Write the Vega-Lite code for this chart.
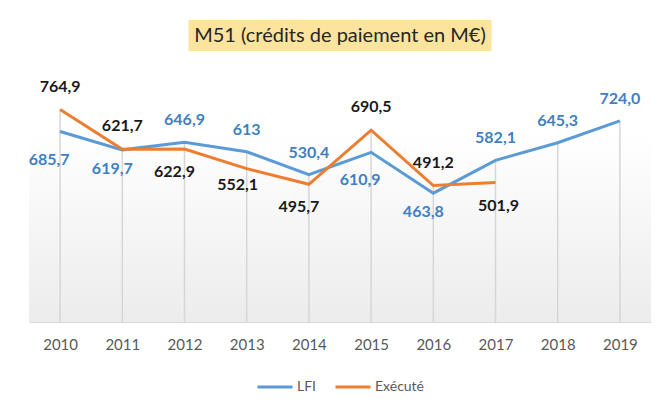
{
  "$schema": "https://vega.github.io/schema/vega-lite/v6.json",
  "padding": {"left": 28, "top": 20, "right": 10, "bottom": 5},
  "background": "white",
  "center": true,
  "spacing": 21,
  "config": {
    "font": "Lato",
    "view": {"stroke": null},
    "legend": {"layout": {"bottom": {"anchor": "middle"}}}
  },
  "datasets": {
    "m51": [
      {"year": 2010, "series": "LFI", "value": 685.7, "label": "685,7"},
      {"year": 2011, "series": "LFI", "value": 619.7, "label": "619,7"},
      {"year": 2012, "series": "LFI", "value": 646.9, "label": "646,9"},
      {"year": 2013, "series": "LFI", "value": 613, "label": "613"},
      {"year": 2014, "series": "LFI", "value": 530.4, "label": "530,4"},
      {"year": 2015, "series": "LFI", "value": 610.9, "label": "610,9"},
      {"year": 2016, "series": "LFI", "value": 463.8, "label": "463,8"},
      {"year": 2017, "series": "LFI", "value": 582.1, "label": "582,1"},
      {"year": 2018, "series": "LFI", "value": 645.3, "label": "645,3"},
      {"year": 2019, "series": "LFI", "value": 724.0, "label": "724,0"},
      {"year": 2010, "series": "Exécuté", "value": 764.9, "label": "764,9"},
      {"year": 2011, "series": "Exécuté", "value": 621.7, "label": "621,7"},
      {"year": 2012, "series": "Exécuté", "value": 622.9, "label": "622,9"},
      {"year": 2013, "series": "Exécuté", "value": 552.1, "label": "552,1"},
      {"year": 2014, "series": "Exécuté", "value": 495.7, "label": "495,7"},
      {"year": 2015, "series": "Exécuté", "value": 690.5, "label": "690,5"},
      {"year": 2016, "series": "Exécuté", "value": 491.2, "label": "491,2"},
      {"year": 2017, "series": "Exécuté", "value": 501.9, "label": "501,9"}
    ]
  },
  "vconcat": [
    {
      "width": 303,
      "height": 31,
      "view": {"fill": "#FCE49C", "stroke": null},
      "data": {"values": [{"title": "M51 (crédits de paiement en M€)"}]},
      "mark": {"type": "text", "fontSize": 20, "color": "#262626", "font": "Lato"},
      "encoding": {"text": {"field": "title", "type": "nominal"}}
    },
    {
      "width": 622,
      "height": 250,
      "data": {"name": "m51"},
      "encoding": {
        "x": {
          "field": "year",
          "type": "ordinal",
          "scale": {"type": "point", "padding": 0.5},
          "axis": {
            "title": null,
            "labelAngle": 0,
            "ticks": false,
            "grid": false,
            "domainColor": "#d9d9d9",
            "labelColor": "#595959",
            "labelFontSize": 15,
            "labelPadding": 15
          }
        }
      },
      "layer": [
        {
          "data": {"values": [{"band": "fond"}]},
          "mark": {
            "type": "rect",
            "color": {
              "gradient": "linear",
              "x1": 0, "y1": 0, "x2": 0, "y2": 1,
              "stops": [
                {"offset": 0, "color": "#ffffff"},
                {"offset": 0.25, "color": "#ffffff"},
                {"offset": 1, "color": "#ececec"}
              ]
            }
          },
          "encoding": {
            "x": null,
            "y": {"datum": 0, "type": "quantitative", "scale": {"domain": [0, 900], "nice": false}, "axis": null},
            "y2": {"datum": 900}
          }
        },
        {
          "mark": {"type": "rule", "color": "#d6d6d6", "strokeWidth": 1.5},
          "encoding": {
            "y": {"aggregate": "max", "field": "value", "type": "quantitative"},
            "y2": {"datum": 0}
          }
        },
        {
          "mark": {"type": "line", "strokeWidth": 3},
          "encoding": {
            "y": {"field": "value", "type": "quantitative"},
            "color": {
              "field": "series",
              "type": "nominal",
              "scale": {"domain": ["LFI", "Exécuté"], "range": ["#5B9BD5", "#ED7D31"]},
              "legend": {
                "title": null,
                "orient": "bottom",
                "direction": "horizontal",
                "symbolType": "stroke",
                "symbolSize": 1225,
                "symbolStrokeWidth": 3,
                "labelFontSize": 14,
                "labelColor": "#595959",
                "labelOffset": 3,
                "columnPadding": 12,
                "offset": 16
              }
            }
          }
        },
        {
          "transform": [{"filter": "datum.series == 'LFI' && indexof([2012, 2013, 2014, 2017, 2018, 2019], datum.year) >= 0"}],
          "mark": {"type": "text", "fontSize": 16, "fontWeight": "bold", "color": "#3F7FC4", "dy": -22},
          "encoding": {"y": {"field": "value", "type": "quantitative"}, "text": {"field": "label"}}
        },
        {
          "transform": [{"filter": "datum.series == 'LFI' && indexof([2010, 2015], datum.year) >= 0"}],
          "mark": {"type": "text", "fontSize": 16, "fontWeight": "bold", "color": "#3F7FC4", "dx": -11, "dy": 28},
          "encoding": {"y": {"field": "value", "type": "quantitative"}, "text": {"field": "label"}}
        },
        {
          "transform": [{"filter": "datum.series == 'LFI' && indexof([2011, 2016], datum.year) >= 0"}],
          "mark": {"type": "text", "fontSize": 16, "fontWeight": "bold", "color": "#3F7FC4", "dx": -10, "dy": 19},
          "encoding": {"y": {"field": "value", "type": "quantitative"}, "text": {"field": "label"}}
        },
        {
          "transform": [{"filter": "datum.series == 'Exécuté' && indexof([2010, 2011, 2015, 2016], datum.year) >= 0"}],
          "mark": {"type": "text", "fontSize": 16, "fontWeight": "bold", "color": "#1a1a1a", "dy": -23},
          "encoding": {"y": {"field": "value", "type": "quantitative"}, "text": {"field": "label"}}
        },
        {
          "transform": [{"filter": "datum.series == 'Exécuté' && indexof([2012, 2014], datum.year) >= 0"}],
          "mark": {"type": "text", "fontSize": 16, "fontWeight": "bold", "color": "#1a1a1a", "dx": -10, "dy": 23},
          "encoding": {"y": {"field": "value", "type": "quantitative"}, "text": {"field": "label"}}
        },
        {
          "transform": [{"filter": "datum.series == 'Exécuté' && datum.year == 2013"}],
          "mark": {"type": "text", "fontSize": 16, "fontWeight": "bold", "color": "#1a1a1a", "dx": -9, "dy": 16},
          "encoding": {"y": {"field": "value", "type": "quantitative"}, "text": {"field": "label"}}
        },
        {
          "transform": [{"filter": "datum.series == 'Exécuté' && datum.year == 2017"}],
          "mark": {"type": "text", "fontSize": 16, "fontWeight": "bold", "color": "#1a1a1a", "dx": 3, "dy": 23},
          "encoding": {"y": {"field": "value", "type": "quantitative"}, "text": {"field": "label"}}
        }
      ]
    }
  ]
}
